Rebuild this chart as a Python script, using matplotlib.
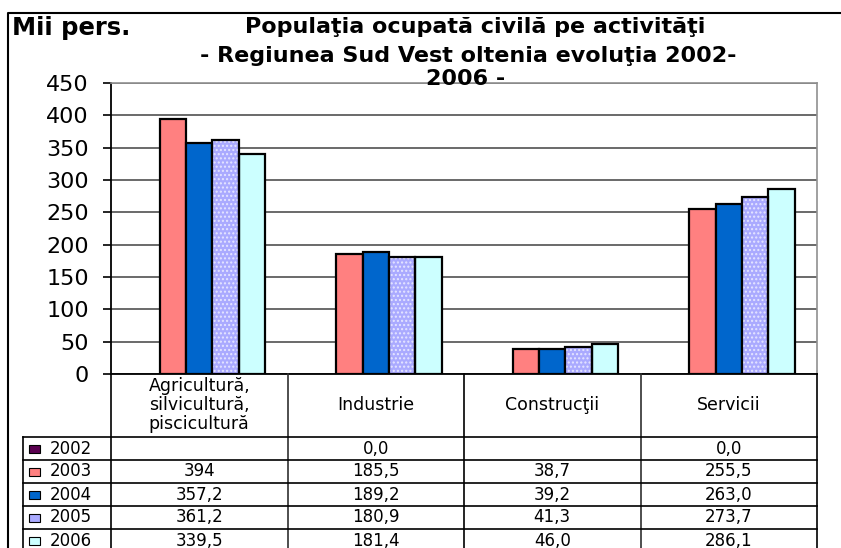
import matplotlib
matplotlib.use("Agg")
import matplotlib.pyplot as plt
import matplotlib.transforms as mtransforms
from matplotlib.lines import Line2D
from matplotlib.patches import Rectangle
import numpy as np

# date
categories = ["Agricultură,\nsilvicultură,\npiscicultură", "Industrie", "Construcţii", "Servicii"]
years = ["2002", "2003", "2004", "2005", "2006"]
v2002 = [None, 0.0, None, 0.0]
v2003 = [394, 185.5, 38.7, 255.5]
v2004 = [357.2, 189.2, 39.2, 263.0]
v2005 = [361.2, 180.9, 41.3, 273.7]
v2006 = [339.5, 181.4, 46.0, 286.1]
series = [v2002, v2003, v2004, v2005, v2006]
colors = ["#5a0050", "#ff8080", "#0066cc", "#aaaaff", "#ccffff"]
yticks = [0, 50, 100, 150, 200, 250, 300, 350, 400, 450]

W, H = 841, 548
plt.rcParams["font.family"] = ["DejaVu Sans"]


def fx(x):
    return x / W


def fy(y):
    return 1 - y / H


def fmt(v):
    if v is None:
        return ""
    if isinstance(v, int):
        return str(v)
    return f"{v:.1f}".replace(".", ",")


fig = plt.figure(figsize=(W / 100, H / 100), dpi=100)
ax = fig.add_axes([fx(111), fy(374), fx(817) - fx(111), (374 - 83) / H])

x = np.arange(len(categories))
slot = 0.15
for i, vals in enumerate(series):
    h = [0 if v is None else v for v in vals]
    pos = x + (i - 2) * slot
    lw = 0 if max(h) == 0 else 1.6
    if years[i] == "2005":
        ax.bar(pos, h, slot, color=colors[i], edgecolor="#e6e6ff", linewidth=0,
               hatch="....", zorder=3)
        ax.bar(pos, h, slot, color="none", edgecolor="black", linewidth=lw, zorder=4)
    else:
        ax.bar(pos, h, slot, color=colors[i], edgecolor="black", linewidth=lw, zorder=3)

ax.set_xlim(-0.5, len(categories) - 0.5)
ax.set_ylim(0, 450)
ax.set_yticks(yticks)
ax.set_yticklabels([str(t) for t in yticks], fontsize=16)
ax.tick_params(axis="y", length=6, width=1.2, pad=10, direction="out")
ax.set_xticks([])
ax.grid(axis="y", color="#505050", linewidth=1.2, zorder=0)
ax.set_axisbelow(True)
for s in ["top", "right"]:
    ax.spines[s].set_color("#909090")
    ax.spines[s].set_linewidth(1.2)
ax.spines["left"].set_linewidth(1.3)
ax.spines["bottom"].set_linewidth(1.3)

# tabelul de date sub grafic
bt = mtransforms.blended_transform_factory(ax.transData, fig.transFigure)
line_kw = dict(color="black", linewidth=1.2)
for k in range(len(categories) + 1):
    fig.add_artist(Line2D([k - 0.5, k - 0.5], [fy(374), 0], transform=bt,
                          color="#303030" if k % 2 else "black", linewidth=1.2))
row_tops = [437, 460, 483, 506, 529]
for yy in row_tops:
    fig.add_artist(Line2D([fx(23), fx(817)], [fy(yy), fy(yy)], **line_kw))
fig.add_artist(Line2D([fx(23), fx(23)], [fy(437), 0], **line_kw))

for k, c in enumerate(categories):
    fig.text(k, fy(405), c, transform=bt, ha="center", va="center",
             fontsize=12.5, linespacing=1.1)

for r, (yr, vals) in enumerate(zip(years, series)):
    yc = fy(row_tops[r] + 11.5)
    fig.add_artist(Rectangle((fx(29), yc - 4 / H), 11 / W, 8 / H, facecolor=colors[r],
                             edgecolor="black", linewidth=0.8))
    fig.text(fx(50), yc, yr, ha="left", va="center", fontsize=12)
    for k, v in enumerate(vals):
        fig.text(k, yc, fmt(v), transform=bt, ha="center", va="center", fontsize=12)

# cadrul exterior
fig.add_artist(Line2D([fx(8), fx(8), 1], [0, fy(13), fy(13)], color="black", linewidth=1.5))

fig.text(fx(12), fy(28), "Mii pers.", fontsize=17.5, fontweight="bold", va="center")
fig.text(fx(475), fy(27), "Populaţia ocupată civilă pe activităţi", fontsize=16,
         fontweight="bold", ha="center", va="center")
fig.text(fx(468), fy(56), "- Regiunea Sud Vest oltenia evoluţia 2002-", fontsize=16,
         fontweight="bold", ha="center", va="center")
fig.text(fx(466), fy(79), "2006 -", fontsize=16, fontweight="bold", ha="center", va="center")

fig.savefig("out.png", dpi=100)
